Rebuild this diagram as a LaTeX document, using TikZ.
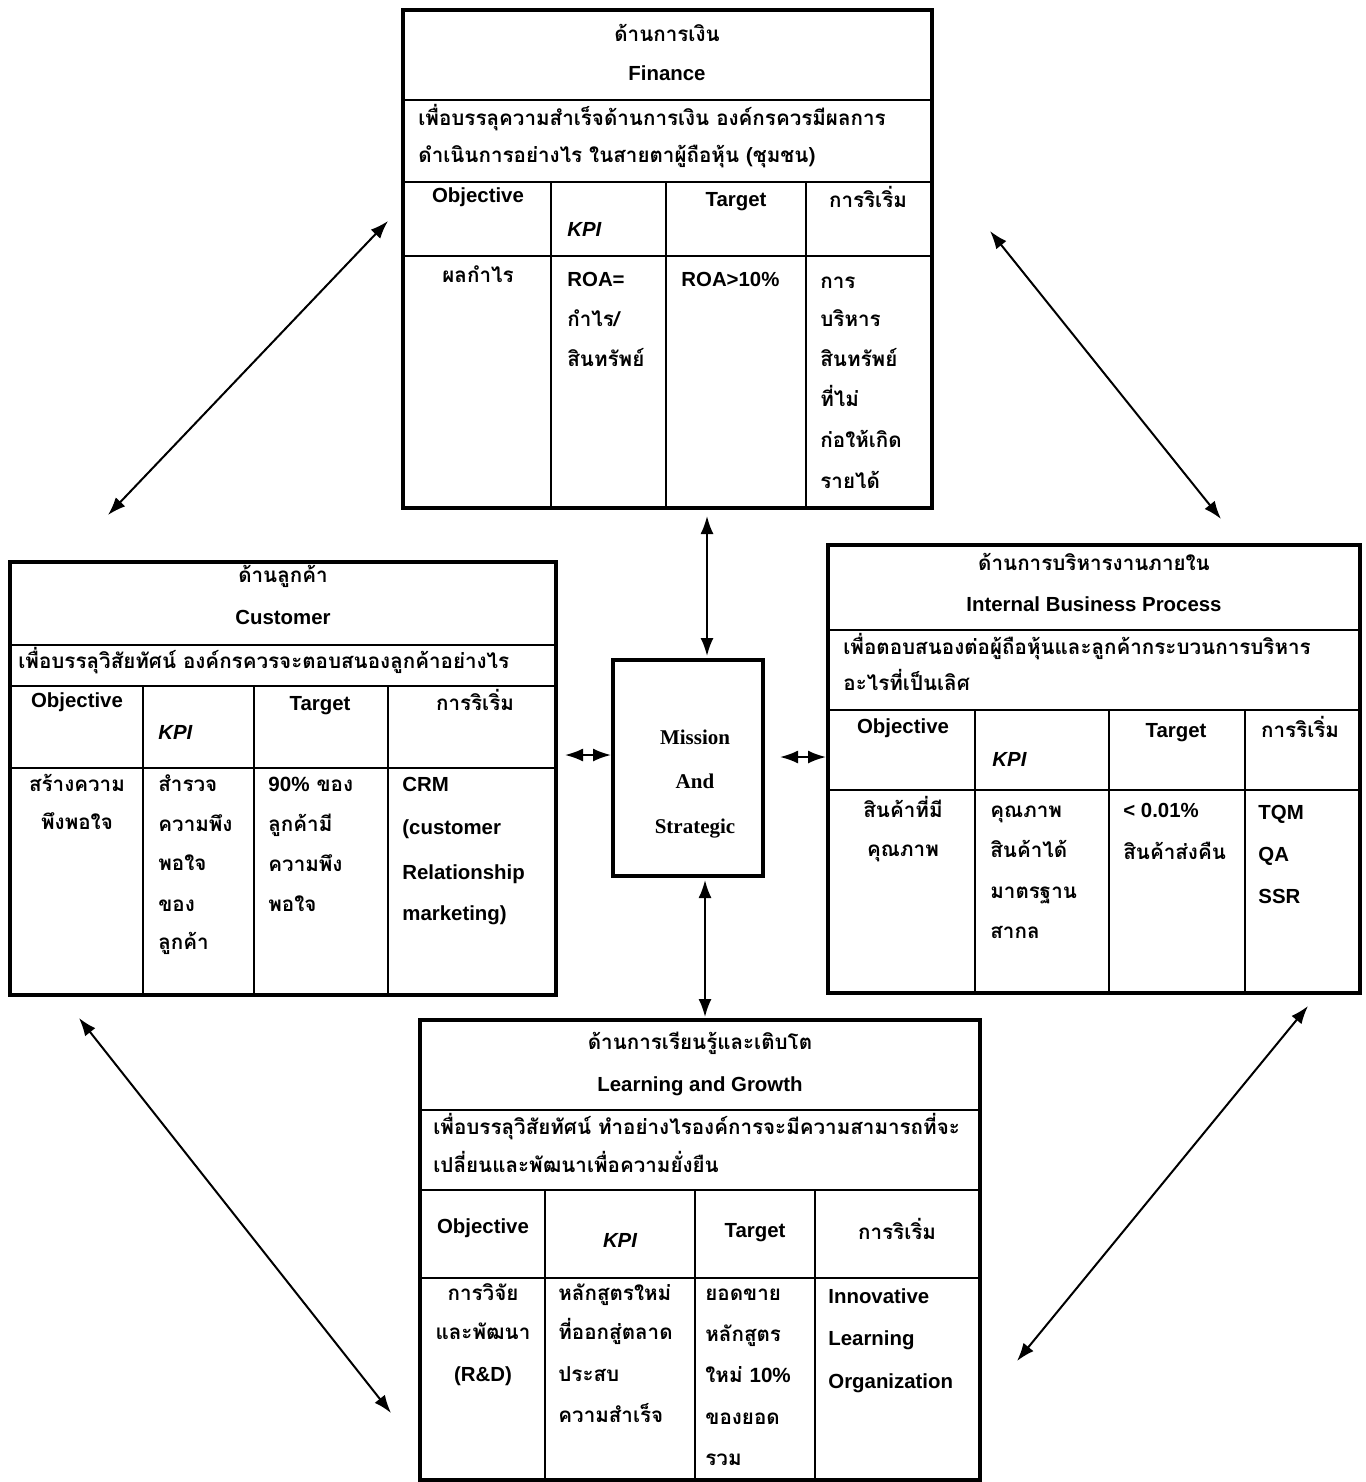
\documentclass[tikz,border=0pt]{standalone}
\usepackage{fontspec}
\usetikzlibrary{arrows.meta,fit}
\newfontfamily\thfont[Script=Thai,BoldFont={Loma Bold}]{Loma}
\newfontfamily\enfont{Liberation Sans}
\newfontfamily\sefont{Liberation Serif}
\tikzset{
  tbl/.style={draw, line width=1.6pt, inner sep=0pt},
  inl/.style={line width=1.3pt},
  th/.style={inner sep=0pt, font=\thfont\bfseries\fontsize{10.3}{12}\selectfont},
  en/.style={inner sep=0pt, font=\enfont\bfseries\fontsize{10.2}{12}\selectfont},
  kpi/.style={inner sep=0pt, font=\enfont\bfseries\itshape\fontsize{10.2}{12}\selectfont},
  se/.style={inner sep=0pt, font=\sefont\bfseries\fontsize{10.5}{12}\selectfont},
  L/.style={anchor=mid west},
  C/.style={anchor=mid},
  dbl/.style={line width=1pt, {Latex[length=9pt,width=6.5pt]}-{Latex[length=9pt,width=6.5pt]}}
}
\begin{document}
\begin{tikzpicture}[x=0.5pt,y=-0.5pt]
\useasboundingbox (0,0) rectangle (1365,1482);

% ================= Finance =================
\node[tbl, fit={(403,10) (932,508)}] (fin) {};
\draw[inl] (403,100) -- (932,100);
\draw[inl] (403,182) -- (932,182);
\draw[inl] (403,256) -- (932,256);
\draw[inl] (551,182) -- (551,508);
\draw[inl] (666,182) -- (666,508);
\draw[inl] (806,182) -- (806,508);
\node[th,C] (f1) at (667,37) {ด้านการเงิน};
\node[en,C] (f2) at (667,76) {Finance};
\node[th,L] (f3) at (418,121) {เพื่อบรรลุความสำเร็จด้านการเงิน องค์กรควรมีผลการ};
\node[th,L] (f4) at (418,158) {ดำเนินการอย่างไร ในสายตาผู้ถือหุ้น (ชุมชน)};
\node[en,C] (f5) at (478,198) {Objective};
\node[kpi,L] (f6) at (567,232) {KPI};
\node[en,C] (f7) at (736,202) {Target};
\node[th,C] (f8) at (868,203) {การริเริ่ม};
\node[th,C] (f9) at (478,278) {ผลกำไร};
\node[en,L] (f10) at (567,282) {ROA=};
\node[th,L] (f11) at (567,322) {กำไร/};
\node[th,L] (f12) at (567,362) {สินทรัพย์};
\node[en,L] (f13) at (681,282) {ROA>10\%};
\node[th,L] (f14) at (820,284) {การ};
\node[th,L] (f15) at (820,322) {บริหาร};
\node[th,L] (f16) at (820,362) {สินทรัพย์};
\node[th,L] (f17) at (820,402) {ที่ไม่};
\node[th,L] (f18) at (820,443) {ก่อให้เกิด};
\node[th,L] (f19) at (820,484) {รายได้};

% ================= Customer =================
\node[tbl, fit={(10,562) (556,995)}] (cus) {};
\draw[inl] (10,645) -- (556,645);
\draw[inl] (10,686) -- (556,686);
\draw[inl] (10,768) -- (556,768);
\draw[inl] (143,686) -- (143,995);
\draw[inl] (254,686) -- (254,995);
\draw[inl] (388,686) -- (388,995);
\node[th,C] (c1) at (283,578) {ด้านลูกค้า};
\node[en,C] (c2) at (283,620) {Customer};
\node[th,L] (c3) at (18,664) {เพื่อบรรลุวิสัยทัศน์ องค์กรควรจะตอบสนองลูกค้าอย่างไร};
\node[en,C] (c4) at (77,703) {Objective};
\node[kpi,L] (c5) at (158,735) {KPI};
\node[en,C] (c6) at (320,706) {Target};
\node[th,C] (c7) at (475,706) {การริเริ่ม};
\node[th,C] (c8) at (77,787) {สร้างความ};
\node[th,C] (c9) at (77,825) {พึงพอใจ};
\node[th,L] (c10) at (158,787) {สำรวจ};
\node[th,L] (c11) at (158,827) {ความพึง};
\node[th,L] (c12) at (158,866) {พอใจ};
\node[th,L] (c13) at (158,907) {ของ};
\node[th,L] (c14) at (158,945) {ลูกค้า};
\node[th,L] (c15) at (268,787) {{\enfont 90\%} ของ};
\node[th,L] (c16) at (268,827) {ลูกค้ามี};
\node[th,L] (c17) at (268,867) {ความพึง};
\node[th,L] (c18) at (268,907) {พอใจ};
\node[en,L] (c19) at (402,787) {CRM};
\node[en,L] (c20) at (402,830) {(customer};
\node[en,L] (c21) at (402,875) {Relationship};
\node[en,L] (c22) at (402,916) {marketing)};

% ================= Internal Business Process =================
\node[tbl, fit={(828,545) (1360,993)}] (ibp) {};
\draw[inl] (828,630) -- (1360,630);
\draw[inl] (828,710) -- (1360,710);
\draw[inl] (828,790) -- (1360,790);
\draw[inl] (975,710) -- (975,993);
\draw[inl] (1109,710) -- (1109,993);
\draw[inl] (1245,710) -- (1245,993);
\node[th,C] (i1) at (1094,566) {ด้านการบริหารงานภายใน};
\node[en,C] (i2) at (1094,607) {Internal Business Process};
\node[th,L] (i3) at (843,650) {เพื่อตอบสนองต่อผู้ถือหุ้นและลูกค้ากระบวนการบริหาร};
\node[th,L] (i4) at (843,686) {อะไรที่เป็นเลิศ};
\node[en,C] (i5) at (903,729) {Objective};
\node[kpi,L] (i6) at (992,762) {KPI};
\node[en,C] (i7) at (1176,733) {Target};
\node[th,C] (i8) at (1300,733) {การริเริ่ม};
\node[th,C] (i9) at (903,813) {สินค้าที่มี};
\node[th,C] (i10) at (903,852) {คุณภาพ};
\node[th,L] (i11) at (990,813) {คุณภาพ};
\node[th,L] (i12) at (990,853) {สินค้าได้};
\node[th,L] (i13) at (990,894) {มาตรฐาน};
\node[th,L] (i14) at (990,934) {สากล};
\node[en,L] (i15) at (1123,813) {< 0.01\%};
\node[th,L] (i16) at (1123,855) {สินค้าส่งคืน};
\node[en,L] (i17) at (1258,815) {TQM};
\node[en,L] (i18) at (1258,857) {QA};
\node[en,L] (i19) at (1258,899) {SSR};

% ================= Learning and Growth =================
\node[tbl, fit={(420,1020) (980,1480)}] (lrn) {};
\draw[inl] (420,1110) -- (980,1110);
\draw[inl] (420,1190) -- (980,1190);
\draw[inl] (420,1278) -- (980,1278);
\draw[inl] (545,1190) -- (545,1480);
\draw[inl] (695,1190) -- (695,1480);
\draw[inl] (815,1190) -- (815,1480);
\node[th,C] (l1) at (700,1045) {ด้านการเรียนรู้และเติบโต};
\node[en,C] (l2) at (700,1087) {Learning and Growth};
\node[th,L] (l3) at (433,1130) {เพื่อบรรลุวิสัยทัศน์ ทำอย่างไรองค์การจะมีความสามารถที่จะ};
\node[th,L] (l4) at (433,1168) {เปลี่ยนและพัฒนาเพื่อความยั่งยืน};
\node[en,C] (l5) at (483,1229) {Objective};
\node[kpi,C] (l6) at (620,1243) {KPI};
\node[en,C] (l7) at (755,1233) {Target};
\node[th,C] (l8) at (897,1235) {การริเริ่ม};
\node[th,C] (l9) at (483,1296) {การวิจัย};
\node[th,C] (l10) at (483,1335) {และพัฒนา};
\node[en,C] (l11) at (483,1377) {(R\&D)};
\node[th,L] (l12) at (558,1296) {หลักสูตรใหม่};
\node[th,L] (l13) at (558,1335) {ที่ออกสู่ตลาด};
\node[th,L] (l14) at (558,1377) {ประสบ};
\node[th,L] (l15) at (558,1418) {ความสำเร็จ};
\node[th,L] (l16) at (705,1296) {ยอดขาย};
\node[th,L] (l17) at (705,1337) {หลักสูตร};
\node[th,L] (l18) at (705,1378) {ใหม่ {\enfont 10\%}};
\node[th,L] (l19) at (705,1420) {ของยอด};
\node[th,L] (l20) at (705,1461) {รวม};
\node[en,L] (l21) at (828,1299) {Innovative};
\node[en,L] (l22) at (828,1341) {Learning};
\node[en,L] (l23) at (828,1384) {Organization};

% ================= Mission =================
\node[tbl, fit={(613,660) (763,876)}] (mis) {};
\node[se,C] (m1) at (695,740) {Mission};
\node[se,C] (m2) at (695,784) {And};
\node[se,C] (m3) at (695,829) {Strategic};

% ================= Connectors =================
\coordinate (a1) at (707,516);
\coordinate (a2) at (707,656);
\coordinate (a3) at (705,880);
\coordinate (a4) at (705,1017);
\coordinate (a5) at (565,755);
\coordinate (a6) at (611,755);
\coordinate (a7) at (780,757);
\coordinate (a8) at (826,757);
\coordinate (d1) at (108,515);
\coordinate (d2) at (388,221);
\coordinate (d3) at (990,231);
\coordinate (d4) at (1221,519);
\coordinate (d5) at (79,1018);
\coordinate (d6) at (391,1413);
\coordinate (d7) at (1308,1006);
\coordinate (d8) at (1017,1361);
\draw[dbl] (a1) -- (a2);
\draw[dbl] (a3) -- (a4);
\draw[dbl] (a5) -- (a6);
\draw[dbl] (a7) -- (a8);
\draw[dbl] (d1) -- (d2);
\draw[dbl] (d3) -- (d4);
\draw[dbl] (d5) -- (d6);
\draw[dbl] (d7) -- (d8);
\end{tikzpicture}
\end{document}
